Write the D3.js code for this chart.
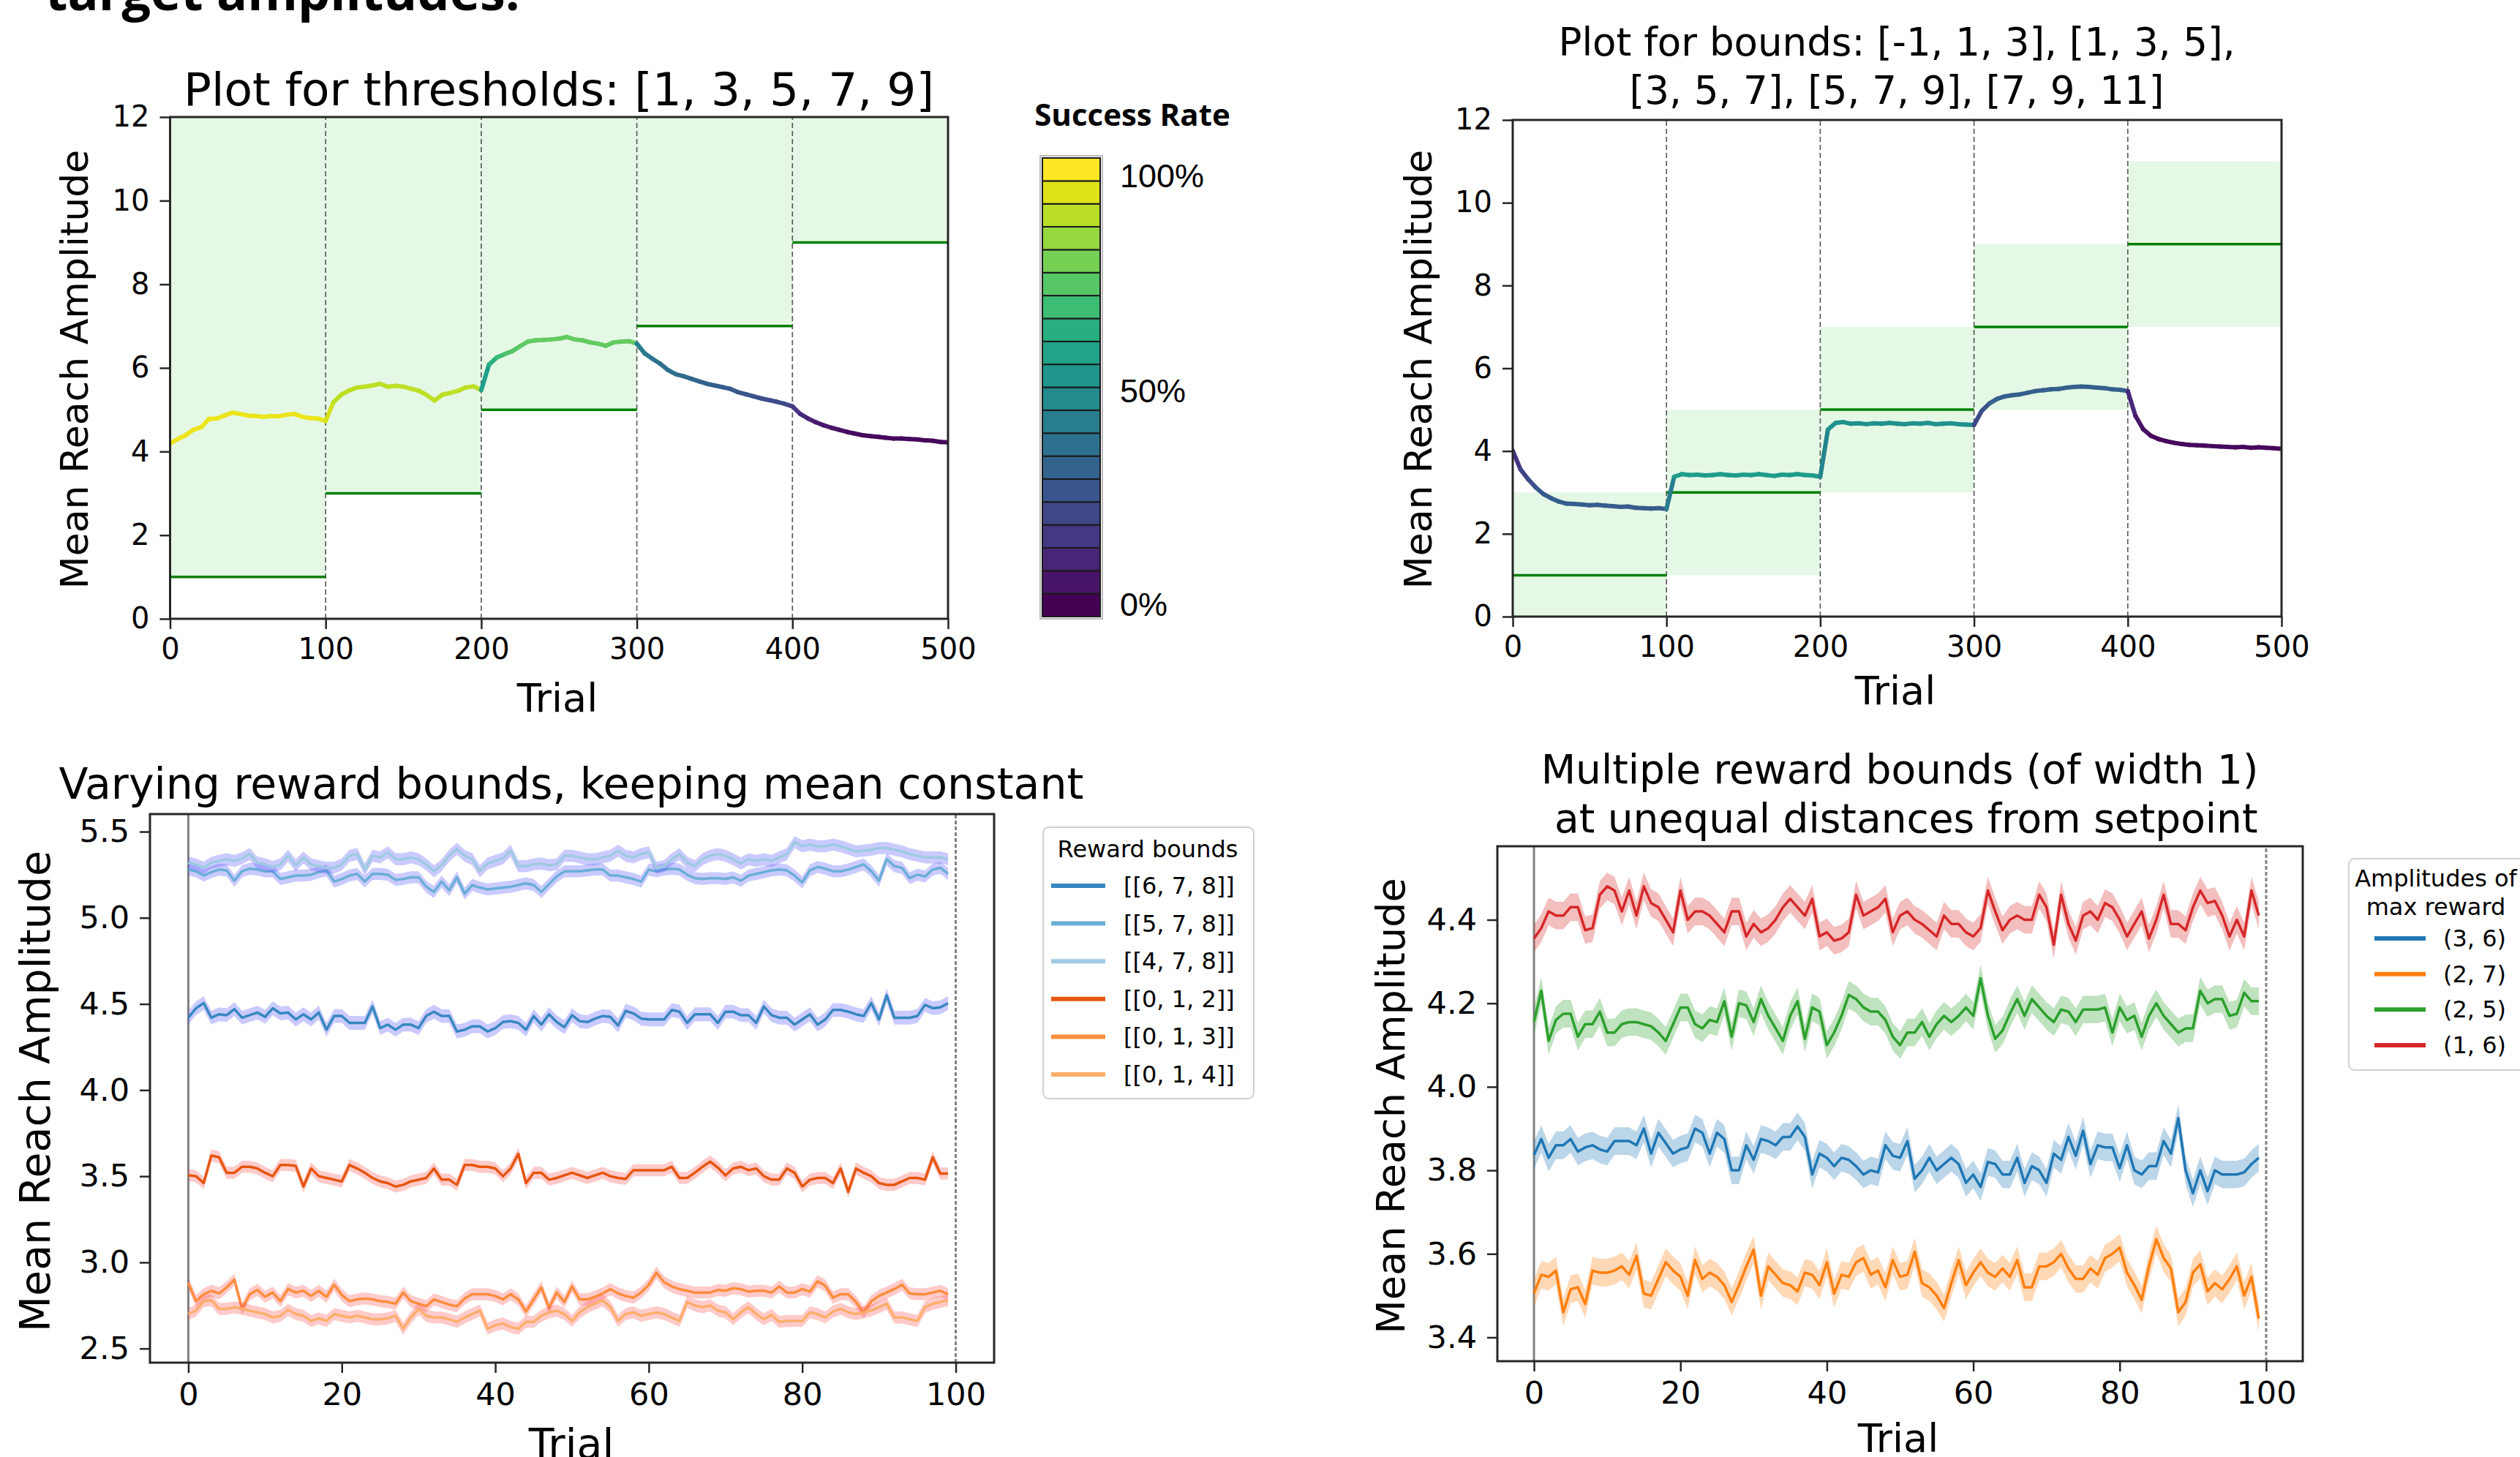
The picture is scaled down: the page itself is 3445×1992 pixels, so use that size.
<!DOCTYPE html>
<html>
<head>
<meta charset="utf-8">
<script src="https://cdn.jsdelivr.net/npm/d3@7"></script>
<style>
body { margin: 0; background: #fff; }
svg text { font-family: "DejaVu Sans", sans-serif; fill: #000; }
</style>
</head>
<body>
<svg id="fig" width="3445" height="1992"></svg>
<script>
// ---- top panels: mean reach amplitude every 5 trials, with success rate (0..1) ----
var trialsTop = d3.range(0, 501, 5);
var thresholds = [1, 3, 5, 7, 9];
var boundsLow = [-1, 1, 3, 5, 7];
var boundsHigh = [3, 5, 7, 9, 11];
var blockStarts = [0, 100, 200, 300, 400];

var ampThresh = [4.19,4.30,4.39,4.52,4.58,4.78,4.79,4.86,4.93,4.90,
  4.86,4.85,4.83,4.85,4.84,4.88,4.90,4.83,4.80,4.79,
  4.73,
  5.18,5.36,5.46,5.53,5.55,5.58,5.62,5.55,5.57,5.55,
  5.50,5.45,5.35,5.22,5.36,5.40,5.45,5.53,5.56,5.47,
  6.08,6.25,6.33,6.40,6.52,6.63,6.66,6.67,6.68,6.70,
  6.74,6.68,6.66,6.61,6.58,6.53,6.61,6.63,6.64,6.58,
  6.35,6.22,6.10,5.95,5.85,5.80,5.74,5.68,5.62,5.58,
  5.54,5.50,5.42,5.37,5.32,5.27,5.23,5.19,5.14,5.08,
  4.90,4.79,4.70,4.63,4.57,4.52,4.47,4.43,4.39,4.37,
  4.35,4.33,4.31,4.31,4.30,4.29,4.27,4.26,4.23,4.22];
var succThresh = [0.97,0.97,0.97,0.97,0.97,0.97,0.97,0.97,0.97,0.97,
  0.97,0.97,0.97,0.97,0.97,0.97,0.97,0.97,0.97,0.97,
  0.93,
  0.90,0.90,0.90,0.90,0.90,0.90,0.90,0.90,0.90,0.90,
  0.90,0.90,0.90,0.90,0.90,0.90,0.90,0.90,0.90,0.56,
  0.63,0.68,0.72,0.74,0.75,0.76,0.76,0.76,0.76,0.76,
  0.76,0.76,0.76,0.76,0.76,0.76,0.76,0.76,0.76,0.42,
  0.40,0.38,0.37,0.36,0.35,0.34,0.33,0.32,0.31,0.30,
  0.29,0.28,0.27,0.26,0.25,0.24,0.23,0.22,0.21,0.16,
  0.12,0.09,0.07,0.06,0.05,0.04,0.03,0.02,0.02,0.02,
  0.02,0.02,0.02,0.02,0.02,0.02,0.02,0.02,0.02,0.02];

var ampBounds = [4.01,3.56,3.32,3.12,2.96,2.86,2.78,2.73,2.72,2.71,
  2.69,2.70,2.68,2.67,2.65,2.66,2.63,2.62,2.61,2.62,
  2.60,
  3.38,3.44,3.42,3.43,3.41,3.42,3.44,3.42,3.41,3.43,
  3.42,3.44,3.42,3.40,3.43,3.42,3.44,3.42,3.41,3.38,
  4.52,4.68,4.70,4.66,4.67,4.65,4.67,4.66,4.68,4.66,
  4.65,4.67,4.66,4.68,4.65,4.66,4.67,4.65,4.64,4.63,
  4.97,5.15,5.26,5.32,5.35,5.37,5.41,5.45,5.47,5.49,
  5.50,5.53,5.55,5.56,5.55,5.53,5.52,5.49,5.48,5.45,
  4.85,4.53,4.37,4.29,4.24,4.20,4.17,4.15,4.14,4.13,
  4.12,4.11,4.10,4.09,4.10,4.08,4.09,4.08,4.07,4.05];
var succBounds = [0.15,0.20,0.24,0.27,0.29,0.29,0.29,0.29,0.29,0.29,
  0.29,0.29,0.29,0.29,0.29,0.29,0.29,0.29,0.29,0.29,
  0.42,
  0.55,0.55,0.55,0.55,0.55,0.55,0.55,0.55,0.55,0.55,
  0.55,0.55,0.55,0.55,0.55,0.55,0.55,0.55,0.55,0.45,
  0.50,0.50,0.50,0.50,0.50,0.50,0.50,0.50,0.50,0.50,
  0.50,0.50,0.50,0.50,0.50,0.50,0.50,0.50,0.50,0.22,
  0.25,0.30,0.30,0.30,0.30,0.30,0.30,0.30,0.30,0.30,
  0.30,0.30,0.30,0.30,0.30,0.30,0.30,0.30,0.30,0.12,
  0.06,0.04,0.02,0.02,0.02,0.02,0.02,0.02,0.02,0.02,
  0.02,0.02,0.02,0.02,0.02,0.02,0.02,0.02,0.02,0.02];

// ---- bottom-left: varying reward bounds (trials 0..99) ----
var vrLabels = ['[[6, 7, 8]]', '[[5, 7, 8]]', '[[4, 7, 8]]', '[[0, 1, 2]]', '[[0, 1, 3]]', '[[0, 1, 4]]'];
var vrColors = ['#3787c0', '#6aaed6', '#9ecae1', '#e6550d', '#fd8d3c', '#fdae6b'];
var vrBandColors = ['#5a5aff', '#5a5aff', '#5a5aff', '#ff5a5a', '#ff5a5a', '#ff5a5a'];
var vrSem = [0.04, 0.035, 0.035, 0.035, 0.035, 0.035];
var vr678 = [4.42,4.475,4.505,4.42,4.44,4.435,4.47,4.42,4.435,4.45,
  4.425,4.475,4.445,4.45,4.41,4.44,4.41,4.45,4.35,4.43,
  4.43,4.39,4.39,4.39,4.485,4.36,4.38,4.35,4.38,4.38,
  4.36,4.43,4.455,4.43,4.43,4.34,4.35,4.37,4.37,4.34,
  4.36,4.395,4.40,4.39,4.35,4.43,4.38,4.44,4.395,4.365,
  4.435,4.40,4.395,4.415,4.43,4.425,4.375,4.46,4.445,4.415,
  4.41,4.41,4.41,4.465,4.455,4.39,4.44,4.44,4.44,4.39,
  4.455,4.455,4.435,4.435,4.39,4.485,4.435,4.42,4.42,4.38,
  4.41,4.44,4.38,4.41,4.465,4.465,4.455,4.44,4.43,4.505,
  4.41,4.55,4.42,4.42,4.42,4.43,4.495,4.475,4.48,4.505];
var vr578 = [5.28,5.27,5.245,5.265,5.28,5.275,5.215,5.27,5.285,5.28,
  5.27,5.27,5.225,5.235,5.245,5.245,5.25,5.265,5.275,5.21,
  5.225,5.245,5.255,5.21,5.255,5.255,5.25,5.22,5.225,5.235,
  5.235,5.18,5.15,5.21,5.16,5.235,5.14,5.19,5.175,5.165,
  5.17,5.175,5.18,5.19,5.20,5.19,5.15,5.195,5.24,5.27,
  5.27,5.27,5.275,5.28,5.28,5.245,5.245,5.235,5.225,5.21,
  5.28,5.27,5.28,5.285,5.28,5.25,5.23,5.225,5.23,5.23,
  5.225,5.235,5.215,5.245,5.255,5.265,5.275,5.28,5.275,5.245,
  5.205,5.275,5.295,5.285,5.27,5.27,5.28,5.295,5.31,5.27,
  5.215,5.34,5.30,5.29,5.23,5.25,5.24,5.28,5.29,5.255];
var vr478 = [5.32,5.31,5.29,5.32,5.33,5.34,5.33,5.345,5.37,5.32,
  5.31,5.295,5.31,5.36,5.305,5.35,5.31,5.30,5.29,5.29,
  5.31,5.36,5.37,5.28,5.36,5.35,5.38,5.34,5.34,5.35,
  5.34,5.31,5.27,5.305,5.36,5.40,5.36,5.34,5.27,5.315,
  5.33,5.345,5.39,5.30,5.30,5.31,5.315,5.305,5.31,5.36,
  5.36,5.35,5.34,5.34,5.35,5.36,5.39,5.36,5.35,5.37,
  5.38,5.29,5.30,5.34,5.37,5.32,5.30,5.34,5.36,5.37,
  5.36,5.34,5.315,5.34,5.33,5.34,5.33,5.35,5.37,5.44,
  5.415,5.425,5.415,5.415,5.425,5.415,5.40,5.385,5.39,5.395,
  5.405,5.405,5.395,5.385,5.37,5.36,5.35,5.35,5.35,5.34];
var vr012 = [3.506,3.50,3.46,3.62,3.61,3.52,3.52,3.555,3.555,3.545,
  3.52,3.50,3.565,3.565,3.56,3.44,3.545,3.50,3.49,3.48,
  3.47,3.565,3.545,3.52,3.49,3.47,3.46,3.44,3.45,3.47,
  3.48,3.49,3.545,3.48,3.48,3.45,3.565,3.565,3.555,3.555,
  3.545,3.50,3.545,3.63,3.46,3.52,3.52,3.48,3.49,3.505,
  3.52,3.505,3.49,3.505,3.52,3.50,3.49,3.485,3.535,3.535,
  3.535,3.535,3.535,3.555,3.49,3.49,3.52,3.555,3.585,3.55,
  3.505,3.545,3.555,3.535,3.545,3.50,3.48,3.48,3.545,3.52,
  3.44,3.48,3.49,3.49,3.46,3.545,3.41,3.545,3.52,3.50,
  3.46,3.45,3.45,3.47,3.49,3.49,3.48,3.61,3.515,3.515];
var vr013 = [2.88,2.775,2.815,2.835,2.82,2.855,2.90,2.73,2.815,2.84,
  2.80,2.825,2.775,2.845,2.825,2.835,2.805,2.835,2.80,2.87,
  2.81,2.775,2.785,2.79,2.785,2.775,2.77,2.76,2.825,2.775,
  2.76,2.745,2.785,2.77,2.755,2.745,2.79,2.815,2.815,2.815,
  2.805,2.785,2.815,2.785,2.715,2.785,2.855,2.735,2.825,2.77,
  2.86,2.785,2.785,2.80,2.82,2.845,2.82,2.805,2.795,2.825,
  2.87,2.94,2.885,2.86,2.845,2.835,2.825,2.825,2.825,2.84,
  2.835,2.85,2.845,2.83,2.835,2.835,2.825,2.86,2.825,2.825,
  2.845,2.83,2.89,2.865,2.795,2.815,2.815,2.77,2.71,2.775,
  2.805,2.825,2.845,2.87,2.82,2.815,2.815,2.825,2.835,2.815];
var vr014 = [2.70,2.72,2.775,2.78,2.73,2.73,2.74,2.73,2.72,2.71,
  2.70,2.68,2.69,2.725,2.70,2.69,2.66,2.675,2.66,2.70,
  2.69,2.68,2.69,2.68,2.67,2.67,2.675,2.69,2.615,2.68,
  2.73,2.69,2.68,2.68,2.67,2.655,2.68,2.70,2.72,2.615,
  2.635,2.645,2.625,2.615,2.655,2.655,2.69,2.71,2.72,2.70,
  2.66,2.71,2.74,2.76,2.78,2.74,2.66,2.70,2.71,2.69,
  2.70,2.71,2.70,2.68,2.66,2.77,2.75,2.74,2.75,2.72,
  2.71,2.67,2.71,2.74,2.70,2.67,2.695,2.655,2.66,2.66,
  2.66,2.71,2.70,2.68,2.715,2.73,2.71,2.70,2.71,2.72,
  2.74,2.76,2.68,2.68,2.67,2.66,2.74,2.76,2.77,2.78];

// ---- bottom-right: multiple reward bounds (trials 0..99) ----
var mrLabels = ['(3, 6)', '(2, 7)', '(2, 5)', '(1, 6)'];
var mrColors = ['#1f77b4', '#ff7f0e', '#2ca02c', '#d62728'];
var mrSem = [0.033, 0.033, 0.033, 0.033];
var mr36 = [3.837,3.875,3.83,3.86,3.86,3.875,3.845,3.855,3.86,3.85,
  3.845,3.87,3.87,3.87,3.86,3.90,3.84,3.89,3.865,3.84,
  3.85,3.855,3.90,3.89,3.84,3.89,3.875,3.80,3.80,3.86,
  3.825,3.875,3.87,3.86,3.88,3.88,3.905,3.88,3.79,3.84,
  3.83,3.81,3.83,3.825,3.81,3.79,3.80,3.795,3.86,3.835,
  3.83,3.87,3.78,3.80,3.83,3.80,3.815,3.83,3.815,3.77,
  3.79,3.76,3.82,3.815,3.79,3.79,3.83,3.77,3.81,3.80,
  3.77,3.84,3.825,3.88,3.835,3.895,3.815,3.86,3.855,3.855,
  3.805,3.86,3.80,3.79,3.81,3.81,3.87,3.84,3.925,3.80,
  3.745,3.80,3.75,3.80,3.79,3.79,3.79,3.795,3.815,3.83];
var mr27 = [3.506,3.55,3.545,3.56,3.46,3.515,3.52,3.48,3.56,3.555,
  3.555,3.56,3.57,3.55,3.595,3.505,3.50,3.54,3.58,3.56,
  3.545,3.50,3.585,3.54,3.555,3.545,3.525,3.485,3.525,3.57,
  3.61,3.50,3.57,3.55,3.53,3.525,3.51,3.555,3.55,3.525,
  3.58,3.505,3.55,3.545,3.58,3.59,3.55,3.56,3.52,3.585,
  3.545,3.55,3.605,3.53,3.52,3.50,3.47,3.53,3.585,3.525,
  3.555,3.58,3.555,3.545,3.565,3.545,3.585,3.52,3.52,3.57,
  3.57,3.58,3.60,3.565,3.54,3.54,3.565,3.55,3.59,3.60,
  3.615,3.555,3.525,3.49,3.57,3.635,3.59,3.565,3.46,3.485,
  3.555,3.575,3.51,3.53,3.515,3.54,3.57,3.50,3.545,3.445];
var mr25 = [4.156,4.23,4.11,4.16,4.175,4.175,4.12,4.15,4.15,4.18,
  4.13,4.13,4.15,4.155,4.155,4.15,4.145,4.13,4.11,4.15,
  4.19,4.19,4.15,4.14,4.16,4.155,4.205,4.12,4.20,4.195,
  4.155,4.21,4.17,4.14,4.11,4.17,4.205,4.115,4.19,4.18,
  4.10,4.13,4.17,4.22,4.21,4.19,4.18,4.18,4.16,4.12,
  4.10,4.13,4.13,4.155,4.12,4.15,4.17,4.155,4.17,4.19,
  4.17,4.26,4.17,4.115,4.135,4.175,4.21,4.17,4.21,4.19,
  4.17,4.155,4.185,4.18,4.155,4.185,4.185,4.185,4.19,4.13,
  4.19,4.16,4.17,4.12,4.17,4.20,4.17,4.15,4.13,4.14,
  4.14,4.23,4.20,4.21,4.21,4.17,4.175,4.225,4.205,4.205];
var mr16 = [4.355,4.38,4.42,4.41,4.41,4.43,4.43,4.375,4.38,4.46,
  4.48,4.47,4.42,4.47,4.41,4.48,4.44,4.43,4.40,4.37,
  4.47,4.40,4.42,4.42,4.41,4.39,4.37,4.42,4.42,4.36,
  4.39,4.37,4.38,4.40,4.43,4.45,4.43,4.41,4.45,4.36,
  4.37,4.35,4.355,4.37,4.46,4.41,4.42,4.43,4.45,4.37,
  4.41,4.42,4.40,4.39,4.375,4.36,4.41,4.39,4.39,4.37,
  4.36,4.38,4.47,4.42,4.375,4.40,4.41,4.40,4.40,4.46,
  4.43,4.34,4.46,4.39,4.35,4.41,4.42,4.40,4.44,4.43,
  4.40,4.36,4.39,4.42,4.355,4.40,4.46,4.39,4.39,4.375,
  4.43,4.47,4.44,4.445,4.41,4.36,4.40,4.36,4.47,4.41];

var trialsBottom = d3.range(100);
var bottomXTicks = [0, 20, 40, 60, 80, 100];
var topXTicks = [0, 100, 200, 300, 400, 500];
var topYTicks = [0, 2, 4, 6, 8, 10, 12];
var vrYTicks = [2.5, 3.0, 3.5, 4.0, 4.5, 5.0, 5.5];
var mrYTicks = [3.4, 3.6, 3.8, 4.0, 4.2, 4.4];

var svg = d3.select('#fig');
svg.append('rect').attr('width', 3445).attr('height', 1992).attr('fill', '#fff');

function clipGroup(id, x, y) {
  var xr = x.range(), yr = y.range();
  svg.append('clipPath').attr('id', id).append('rect')
    .attr('x', xr[0]).attr('y', yr[1]).attr('width', xr[1] - xr[0]).attr('height', yr[0] - yr[1]);
  return svg.append('g').attr('clip-path', 'url(#' + id + ')');
}

function drawAxes(x, y, xticks, yticks, yfmt, fs) {
  var xr = x.range(), yr = y.range();
  var ax = svg.append('g').attr('transform', 'translate(0,' + yr[0] + ')')
    .call(d3.axisBottom(x).tickValues(xticks).tickSize(14).tickPadding(13).tickFormat(d3.format('d')));
  var ay = svg.append('g').attr('transform', 'translate(' + xr[0] + ',0)')
    .call(d3.axisLeft(y).tickValues(yticks).tickSize(14).tickPadding(14).tickFormat(yfmt));
  [ax, ay].forEach(function (a) {
    a.select('.domain').remove();
    a.attr('font-size', fs);
    a.selectAll('line').attr('stroke', '#262626').attr('stroke-width', 2.5);
    a.selectAll('text').attr('fill', '#000');
  });
  svg.append('rect')
    .attr('x', xr[0]).attr('y', yr[1]).attr('width', xr[1] - xr[0]).attr('height', yr[0] - yr[1])
    .attr('fill', 'none').attr('stroke', '#262626').attr('stroke-width', 3);
}

function text(x, y, str, size, rot) {
  var t = svg.append('text').attr('font-size', size).attr('text-anchor', 'middle')
    .style('white-space', 'pre').text(str);
  if (rot) t.attr('transform', 'translate(' + x + ',' + y + ') rotate(-90)');
  else t.attr('x', x).attr('y', y);
  return t;
}

// colored (by success rate) trajectory
function successLine(g, x, y, amp, succ) {
  var segs = d3.range(amp.length - 1);
  g.selectAll(null).data(segs).enter().append('line')
    .attr('x1', function (i) { return x(trialsTop[i]); })
    .attr('y1', function (i) { return y(amp[i]); })
    .attr('x2', function (i) { return x(trialsTop[i + 1]); })
    .attr('y2', function (i) { return y(amp[i + 1]); })
    .attr('stroke', function (i) { return d3.interpolateViridis(succ[i]); })
    .attr('stroke-width', 6)
    .attr('stroke-linecap', 'round');
}

function blockDividers(g, x, y) {
  g.selectAll(null).data([100, 200, 300, 400]).enter().append('line')
    .attr('x1', function (d) { return x(d); }).attr('x2', function (d) { return x(d); })
    .attr('y1', y(0)).attr('y2', y(12))
    .attr('stroke', '#555').attr('stroke-width', 1.6).attr('stroke-dasharray', '7,4');
}

// ================= panel 1: thresholds =================
var x1 = d3.scaleLinear().domain([0, 500]).range([232.5, 1296]);
var y1 = d3.scaleLinear().domain([0, 12]).range([846, 160]);
var p1 = clipGroup('clip1', x1, y1);
p1.selectAll(null).data(thresholds).enter().append('rect')
  .attr('x', function (d, i) { return x1(blockStarts[i]); })
  .attr('width', function (d, i) { return x1(blockStarts[i] + 100) - x1(blockStarts[i]); })
  .attr('y', y1(12))
  .attr('height', function (d) { return y1(d) - y1(12); })
  .attr('fill', '#e5f8e5');
blockDividers(p1, x1, y1);
p1.selectAll(null).data(thresholds).enter().append('line')
  .attr('x1', function (d, i) { return x1(blockStarts[i]); })
  .attr('x2', function (d, i) { return x1(blockStarts[i] + 100); })
  .attr('y1', function (d) { return y1(d); }).attr('y2', function (d) { return y1(d); })
  .attr('stroke', '#008000').attr('stroke-width', 3.5);
successLine(p1, x1, y1, ampThresh, succThresh);
drawAxes(x1, y1, topXTicks, topYTicks, d3.format('d'), 40);
text(764, 144, 'Plot for thresholds: [1, 3, 5, 7, 9]', 63);
text(762, 973, 'Trial', 54);
text(120, 505, 'Mean Reach Amplitude', 52, true);

// colour bar
var cbLevels = d3.range(20);
var cbY = d3.scaleBand().domain(cbLevels).range([843, 216]);
svg.append('rect').attr('x', 1422).attr('y', 213).attr('width', 85).attr('height', 633)
  .attr('fill', 'none').attr('stroke', '#bbb').attr('stroke-width', 2);
svg.selectAll(null).data(cbLevels).enter().append('rect')
  .attr('x', 1425).attr('width', 79)
  .attr('y', function (d) { return cbY(d); }).attr('height', cbY.bandwidth())
  .attr('fill', function (d) { return d3.interpolateViridis(d / 19); })
  .attr('stroke', '#1a1a1a').attr('stroke-width', 2);
svg.append('text').attr('x', 1548).attr('y', 172).attr('text-anchor', 'middle')
  .attr('font-size', 42).style('font-family', '"Open Sans", sans-serif').style('font-weight', 700)
  .text('Success Rate');
[['100%', 256], ['50%', 550], ['0%', 842]].forEach(function (d) {
  svg.append('text').attr('x', 1531).attr('y', d[1]).attr('font-size', 45)
    .style('font-family', '"Liberation Sans", Arial, sans-serif').text(d[0]);
});

// slide heading, cut by the top edge
svg.append('text').attr('x', 62).attr('y', 14).attr('font-size', 70)
  .style('font-family', '"Open Sans", sans-serif').style('font-weight', 700)
  .text('target amplitudes:');

// ================= panel 2: bounds =================
var x2 = d3.scaleLinear().domain([0, 500]).range([2068, 3119]);
var y2 = d3.scaleLinear().domain([0, 12]).range([843, 164]);
var p2 = clipGroup('clip2', x2, y2);
p2.selectAll(null).data(boundsLow).enter().append('rect')
  .attr('x', function (d, i) { return x2(blockStarts[i]); })
  .attr('width', function (d, i) { return x2(blockStarts[i] + 100) - x2(blockStarts[i]); })
  .attr('y', function (d, i) { return y2(boundsHigh[i]); })
  .attr('height', function (d, i) { return y2(d) - y2(boundsHigh[i]); })
  .attr('fill', '#e5f8e5');
blockDividers(p2, x2, y2);
p2.selectAll(null).data(thresholds).enter().append('line')
  .attr('x1', function (d, i) { return x2(blockStarts[i]); })
  .attr('x2', function (d, i) { return x2(blockStarts[i] + 100); })
  .attr('y1', function (d) { return y2(d); }).attr('y2', function (d) { return y2(d); })
  .attr('stroke', '#008000').attr('stroke-width', 3.5);
successLine(p2, x2, y2, ampBounds, succBounds);
drawAxes(x2, y2, topXTicks, topYTicks, d3.format('d'), 40);
text(2593, 76, 'Plot for bounds: [-1, 1, 3], [1, 3, 5],', 53);
text(2593, 142, '[3, 5, 7], [5, 7, 9], [7, 9, 11]', 53);
text(2591, 963, 'Trial', 54);
text(1957, 505, 'Mean Reach Amplitude', 52, true);

// helper for band + line series
function bandSeries(g, x, y, vals, sem, color, bandColor, bandOpacity) {
  var area = d3.area()
    .x(function (d, i) { return x(trialsBottom[i]); })
    .y0(function (d) { return y(d - sem); })
    .y1(function (d) { return y(d + sem); });
  var line = d3.line()
    .x(function (d, i) { return x(trialsBottom[i]); })
    .y(function (d) { return y(d); });
  g.append('path').datum(vals).attr('d', area).attr('fill', bandColor).attr('fill-opacity', bandOpacity);
  g.append('path').datum(vals).attr('d', line).attr('fill', 'none')
    .attr('stroke', color).attr('stroke-width', 3.5).attr('stroke-linejoin', 'round');
}

function trialMarkers(g, x, y) {
  var yd = y.domain();
  g.append('line').attr('x1', x(0)).attr('x2', x(0)).attr('y1', y(yd[0])).attr('y2', y(yd[1]))
    .attr('stroke', '#808080').attr('stroke-width', 3);
  g.append('line').attr('x1', x(100)).attr('x2', x(100)).attr('y1', y(yd[0])).attr('y2', y(yd[1]))
    .attr('stroke', '#808080').attr('stroke-width', 3).attr('stroke-dasharray', '5,3');
}

// ================= panel 3: varying reward bounds =================
var x3 = d3.scaleLinear().domain([-5, 105]).range([205, 1359]);
var y3 = d3.scaleLinear().domain([2.418, 5.602]).range([1863, 1113]);
var p3 = clipGroup('clip3', x3, y3);
trialMarkers(p3, x3, y3);
[vr678, vr578, vr478, vr012, vr013, vr014].forEach(function (vals, k) {
  bandSeries(p3, x3, y3, vals, vrSem[k], vrColors[k], vrBandColors[k], 0.32);
});
drawAxes(x3, y3, bottomXTicks, vrYTicks, d3.format('.1f'), 43);
text(781, 1092, 'Varying reward bounds, keeping mean constant', 58.5);
text(781, 1994, 'Trial', 57);
text(68, 1492, 'Mean Reach Amplitude', 57, true);

// legend
var lg3 = svg.append('g');
lg3.append('rect').attr('x', 1426).attr('y', 1131).attr('width', 288).attr('height', 371)
  .attr('rx', 8).attr('fill', '#fff').attr('stroke', '#d0d0d0').attr('stroke-width', 2);
lg3.append('text').attr('x', 1569).attr('y', 1172).attr('text-anchor', 'middle')
  .attr('font-size', 32).text('Reward bounds');
var lg3Y = d3.scalePoint().domain(vrLabels).range([1211, 1469]);
lg3.selectAll(null).data(vrLabels).enter().append('line')
  .attr('x1', 1437).attr('x2', 1511)
  .attr('y1', function (d) { return lg3Y(d); }).attr('y2', function (d) { return lg3Y(d); })
  .attr('stroke', function (d, i) { return vrColors[i]; }).attr('stroke-width', 6);
lg3.selectAll(null).data(vrLabels).enter().append('text')
  .attr('x', 1536).attr('y', function (d) { return lg3Y(d) + 11; })
  .attr('font-size', 32).text(function (d) { return d; });

// ================= panel 4: multiple reward bounds =================
var x4 = d3.scaleLinear().domain([-5, 105]).range([2047, 3148]);
var y4 = d3.scaleLinear().domain([3.343, 4.576]).range([1861, 1157]);
var p4 = clipGroup('clip4', x4, y4);
trialMarkers(p4, x4, y4);
[mr36, mr27, mr25, mr16].forEach(function (vals, k) {
  bandSeries(p4, x4, y4, vals, mrSem[k], mrColors[k], mrColors[k], 0.3);
});
drawAxes(x4, y4, bottomXTicks, mrYTicks, d3.format('.1f'), 43);
text(2597, 1071, 'Multiple reward bounds (of width 1)', 55);
text(2597, 1138, ' at unequal distances from setpoint', 55);
text(2595, 1985, 'Trial', 54);
text(1920, 1512, 'Mean Reach Amplitude', 54, true);

var lg4 = svg.append('g');
lg4.append('rect').attr('x', 3211).attr('y', 1174).attr('width', 260).attr('height', 289)
  .attr('rx', 8).attr('fill', '#fff').attr('stroke', '#d0d0d0').attr('stroke-width', 2);
lg4.append('text').attr('x', 3330).attr('y', 1212).attr('text-anchor', 'middle')
  .attr('font-size', 32).text('Amplitudes of');
lg4.append('text').attr('x', 3330).attr('y', 1251).attr('text-anchor', 'middle')
  .attr('font-size', 32).text('max reward');
var lg4Y = d3.scalePoint().domain(mrLabels).range([1283, 1429]);
lg4.selectAll(null).data(mrLabels).enter().append('line')
  .attr('x1', 3246).attr('x2', 3316)
  .attr('y1', function (d) { return lg4Y(d); }).attr('y2', function (d) { return lg4Y(d); })
  .attr('stroke', function (d, i) { return mrColors[i]; }).attr('stroke-width', 6);
lg4.selectAll(null).data(mrLabels).enter().append('text')
  .attr('x', 3340).attr('y', function (d) { return lg4Y(d) + 11; })
  .attr('font-size', 32).text(function (d) { return d; });
</script>
</body>
</html>
